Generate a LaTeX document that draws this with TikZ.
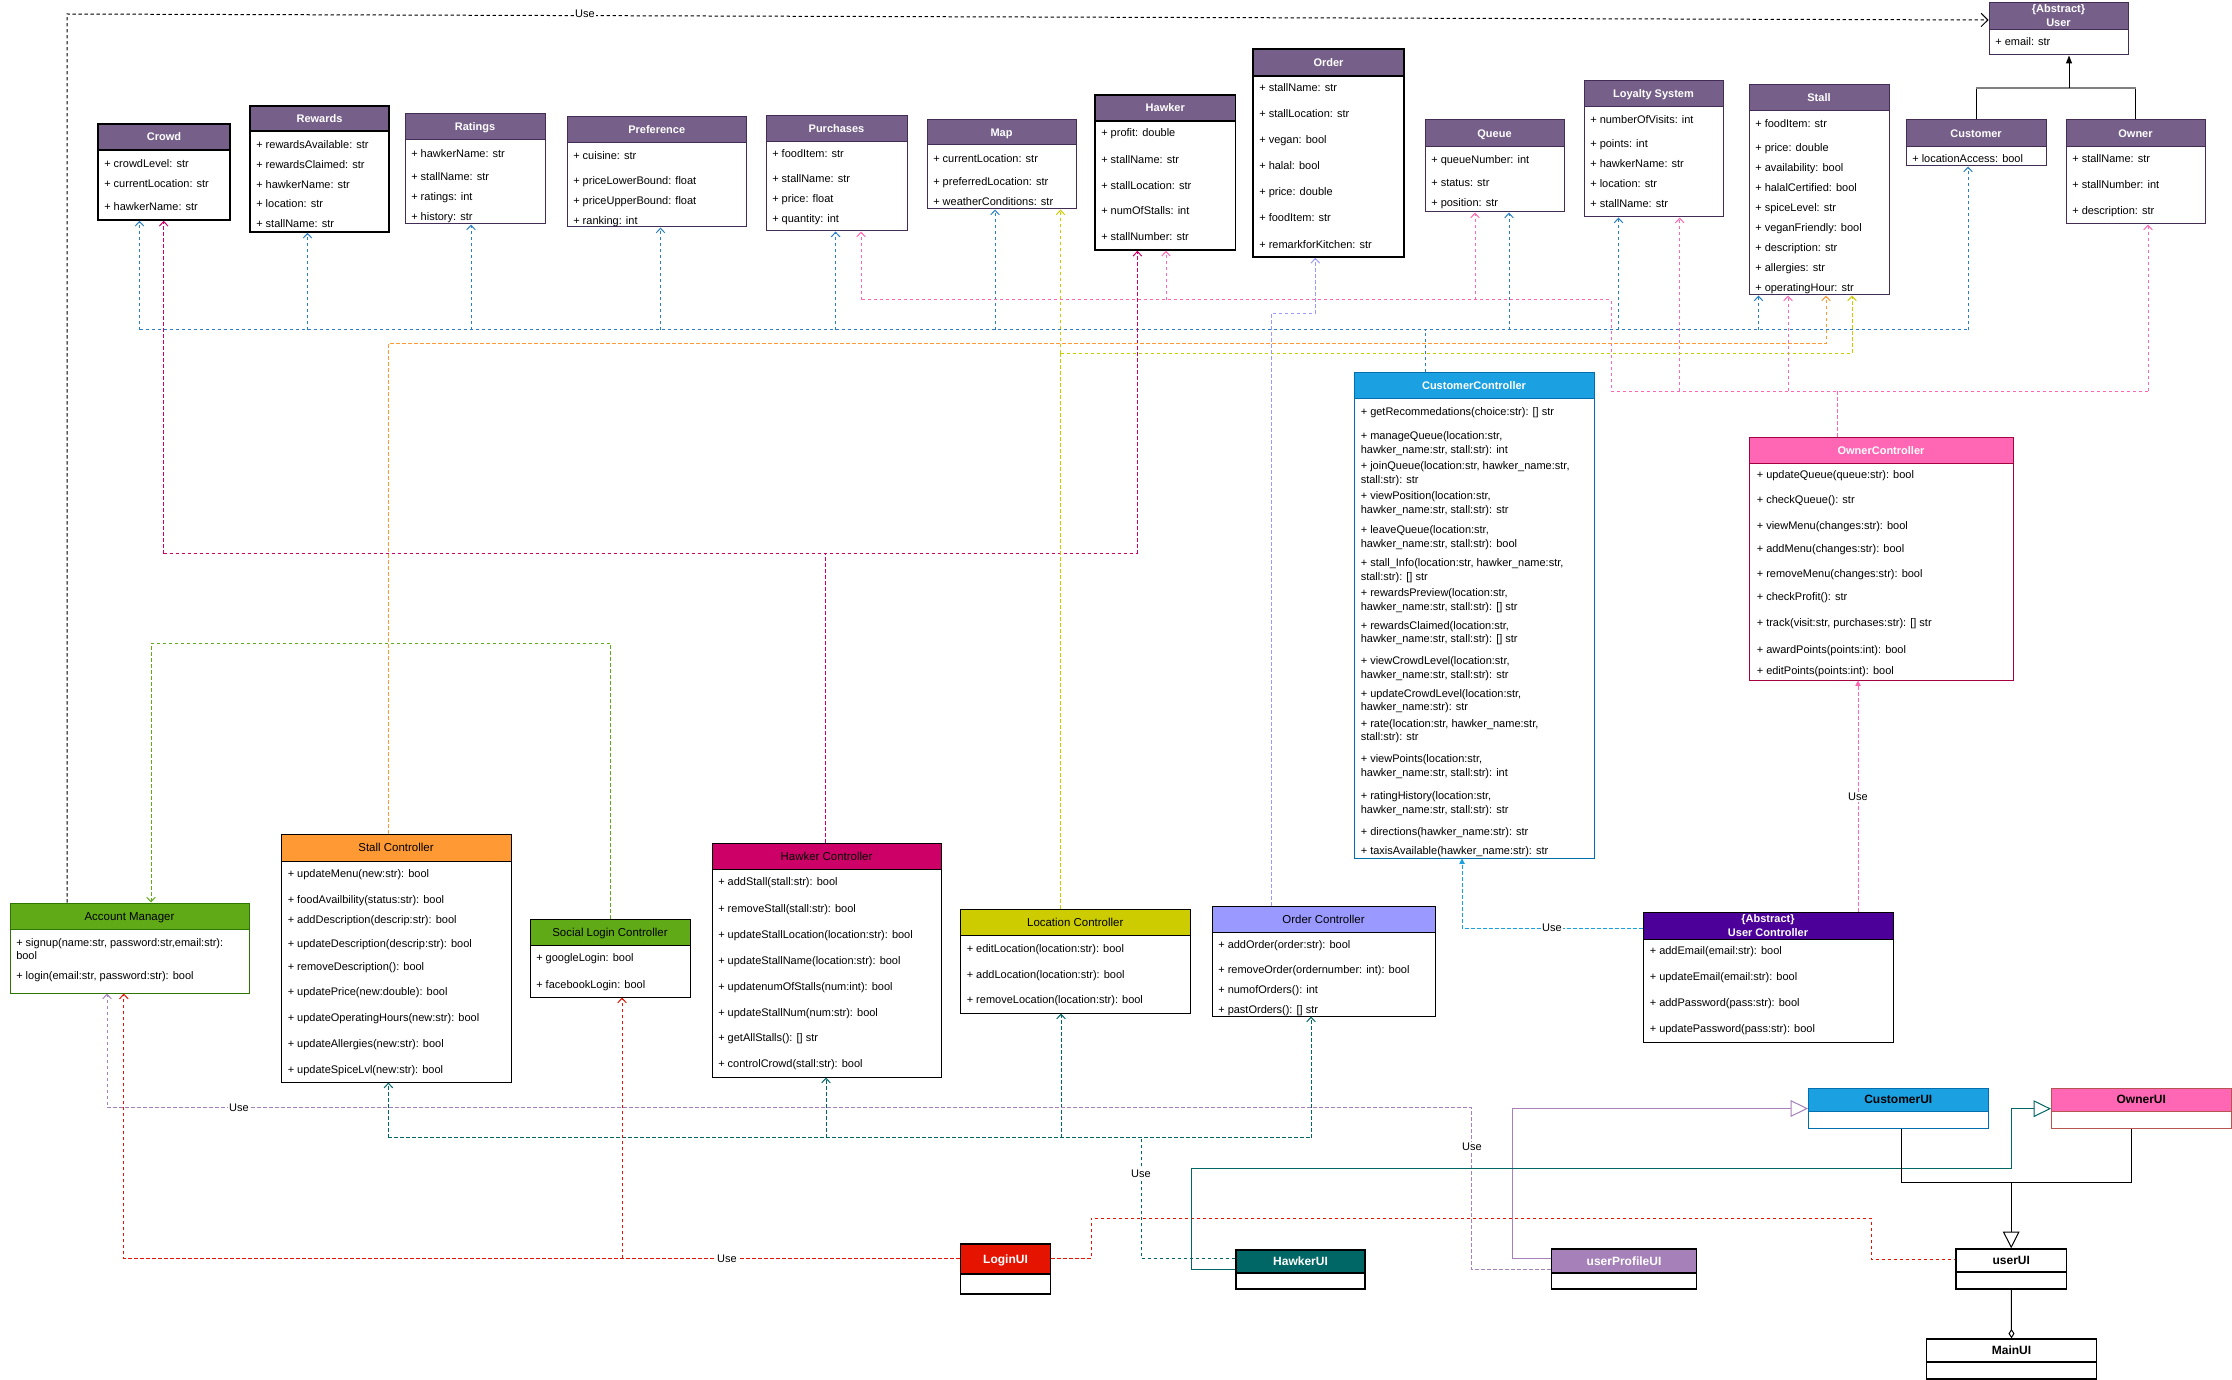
\documentclass[tikz,border=0pt]{standalone}
\usepackage{fontspec}
\setmainfont{Liberation Sans}
\usetikzlibrary{arrows.meta,fit}

% box colours
\definecolor{clsfill}{HTML}{76608A}
\definecolor{clsline}{HTML}{432D57}
\definecolor{ccfill}{HTML}{1BA1E2}
\definecolor{ccline}{HTML}{006EAF}
\definecolor{ocfill}{HTML}{FF66B3}
\definecolor{ocline}{HTML}{A50040}
\definecolor{ucfill}{HTML}{4C0099}
\definecolor{amfill}{HTML}{60A917}
\definecolor{amline}{HTML}{2D7600}
\definecolor{scfill}{HTML}{FF9933}
\definecolor{hcfill}{HTML}{CC0066}
\definecolor{lcfill}{HTML}{CCCC00}
\definecolor{odfill}{HTML}{9999FF}
\definecolor{lgfill}{HTML}{E51400}
\definecolor{hufill}{HTML}{006666}
\definecolor{pufill}{HTML}{A680B8}
\definecolor{ouline}{HTML}{B85450}
% connector colours
\definecolor{cblue}{HTML}{2A7FC4}
\definecolor{cpink}{HTML}{FF66B3}
\definecolor{corange}{HTML}{FF9933}
\definecolor{cyellow}{HTML}{CCCC00}
\definecolor{ccrim}{HTML}{CC0066}
\definecolor{clpur}{HTML}{9999FF}
\definecolor{cgreen}{HTML}{60A917}
\definecolor{cred}{HTML}{E51400}
\definecolor{cpur}{HTML}{A680B8}
\definecolor{cteal}{HTML}{006666}

\newcommand{\attrfont}{\fontsize{8.25}{10}\selectfont}
\newcommand{\clsfont}{\fontsize{8.25}{10.5}\selectfont\bfseries}
\newcommand{\ctlfont}{\fontsize{8.6}{10.5}\selectfont}
\newcommand{\uifont}{\fontsize{9}{11}\selectfont\bfseries}

% class box: name, x1, y1, x2, y2, header bottom, border style, header style, title
\newcommand{\umlbox}[9]{%
  \node[umlbody,#7,fit={(#2,#3) (#4,#5)}] (#1) {};
  \node[umlhead,#7,#8,fit={(#2,#3) (#4,#6)}] (#1-head) {};
  \node[titletext,#8,fill=none] (#1-title) at (#1-head.center) {#9};
}
% member lines: class name, x, list of y/text
\newcommand{\attrs}[3]{%
  \foreach \ay/\atxt [count=\ai] in {#3}{\node[attr] (#1-a\ai) at (#2,\ay) {\atxt};}
}

\tikzset{
  umlbody/.style={draw, fill=white, inner sep=0pt, line width=0.75pt},
  umlhead/.style={draw, inner sep=0pt, line width=0.75pt},
  titletext/.style={inner sep=0pt, text height=6pt, text depth=0pt},
  attr/.style={anchor=west, inner sep=0pt, font=\attrfont, text height=5.9pt, text depth=1.2pt},
  pbd/.style={draw=clsline},
  blk/.style={draw=black, line width=1.1pt},
  thinblk/.style={draw=black},
  purphead/.style={fill=clsfill, text=white, font=\clsfont},
  ctlhead/.style={fill=#1, text=black, font=\ctlfont},
  whitehead/.style={fill=#1, text=white, font=\clsfont},
  uihead/.style={fill=#1, text=black, font=\uifont},
  uiwhite/.style={fill=#1, text=white, font=\uifont},
  conn/.style={line width=0.75pt},
  dashline/.style={conn, draw=#1, dash pattern=on 2.5pt off 2pt},
  dep/.style={dashline=#1, -{Straight Barb[length=3.5pt,width=6.5pt]}},
  uselbl/.style={font=\attrfont, fill=white, inner sep=1pt},
}

\begin{document}
\begin{tikzpicture}[x=0.75pt,y=-0.75pt]
\fill[white] (0,0) rectangle (2232,1380);
\useasboundingbox (0,0) rectangle (2232,1380);

% ---------------- entity classes ----------------
\umlbox{crowd}{98}{124}{230}{220}{150}{blk}{purphead}{Crowd}
\attrs{crowd}{104}{164/{+ crowdLevel: str},184/{+ currentLocation: str},207.7/{+ hawkerName: str}}

\umlbox{rewards}{250}{106}{389}{232}{131}{blk}{purphead}{Rewards}
\attrs{rewards}{256}{145.7/{+ rewardsAvailable: str},165/{+ rewardsClaimed: str},185/{+ hawkerName: str},204.3/{+ location: str},224.3/{+ stallName: str}}

\umlbox{ratings}{405}{114}{545}{224}{140}{pbd}{purphead}{Ratings}
\attrs{ratings}{411}{154.3/{+ hawkerName: str},177.7/{+ stallName: str},197.7/{+ ratings: int},217.7/{+ history: str}}

\umlbox{pref}{567}{117}{746.5}{227}{143}{pbd}{purphead}{Preference}
\attrs{pref}{573}{156.7/{+ cuisine: str},181/{+ priceLowerBound: float},201/{+ priceUpperBound: float},221/{+ ranking: int}}

\umlbox{purch}{766}{116}{907}{231}{142}{pbd}{purphead}{Purchases}
\attrs{purch}{772}{154.3/{+ foodItem: str},179/{+ stallName: str},199/{+ price: float},219/{+ quantity: int}}

\umlbox{map}{927}{120}{1076}{209}{145}{pbd}{purphead}{Map}
\attrs{map}{933}{159/{+ currentLocation: str},182.3/{+ preferredLocation: str},202.3/{+ weatherConditions: str}}

\umlbox{hawker}{1095}{95}{1235.5}{250}{121}{blk}{purphead}{Hawker}
\attrs{hawker}{1101}{133.7/{+ profit: double},160/{+ stallName: str},186/{+ stallLocation: str},211.7/{+ numOfStalls: int},237.7/{+ stallNumber: str}}

\umlbox{order}{1253}{49}{1404}{257}{76}{blk}{purphead}{Order}
\attrs{order}{1259}{88.3/{+ stallName: str},114.7/{+ stallLocation: str},140.7/{+ vegan: bool},166.7/{+ halal: bool},192.3/{+ price: double},218.3/{+ foodItem: str},245/{+ remarkforKitchen: str}}

\umlbox{queue}{1425}{120}{1564}{212}{147}{pbd}{purphead}{Queue}
\attrs{queue}{1431}{160/{+ queueNumber: int},183.7/{+ status: str},203.7/{+ position: str}}

\umlbox{loyalty}{1584}{81}{1723}{217}{107}{pbd}{purphead}{Loyalty System}
\attrs{loyalty}{1590}{120.7/{+ numberOfVisits: int},144.7/{+ points: int},164.7/{+ hawkerName: str},184.7/{+ location: str},204.7/{+ stallName: str}}

\umlbox{stall}{1749}{85}{1889}{295}{111}{pbd}{purphead}{Stall}
\attrs{stall}{1755}{124.7/{+ foodItem: str},148.7/{+ price: double},168.7/{+ availability: bool},188.7/{+ halalCertified: bool},208.7/{+ spiceLevel: str},228.7/{+ veganFriendly: bool},248.7/{+ description: str},268.7/{+ allergies: str},288.7/{+ operatingHour: str}}

\umlbox{customer}{1906}{120}{2046}{166}{147}{pbd}{purphead}{Customer}
\attrs{customer}{1912}{159.7/{+ locationAccess: bool}}

\umlbox{owner}{2066}{120}{2205}{224}{147}{pbd}{purphead}{Owner}
\attrs{owner}{2072}{159.7/{+ stallName: str},185.7/{+ stallNumber: int},211.7/{+ description: str}}

\umlbox{user}{1989}{3}{2128}{55}{30}{pbd}{purphead}{}
\node[titletext,text=white,font=\clsfont] (user-t1) at (2058.5,9) {\{Abstract\}};
\node[titletext,text=white,font=\clsfont] (user-t2) at (2058.5,23) {User};
\attrs{user}{1995}{42.7/{+ email: str}}

% ---------------- controllers ----------------
\umlbox{custctl}{1354}{373}{1594}{858}{398}{draw=ccline}{whitehead=ccfill}{CustomerController}
\attrs{custctl}{1360.5}{412.3/{+ getRecommedations(choice:str): [] str},
 436.7/{+ manageQueue(location:str,},450/{hawker\_name:str, stall:str): int},
 466.7/{+ joinQueue(location:str, hawker\_name:str,},480/{stall:str): str},
 496.7/{+ viewPosition(location:str,},510/{hawker\_name:str, stall:str): str},
 530/{+ leaveQueue(location:str,},544/{hawker\_name:str, stall:str): bool},
 563.3/{+ stall\_Info(location:str, hawker\_name:str,},577.3/{stall:str): [] str},
 593.3/{+ rewardsPreview(location:str,},607.3/{hawker\_name:str, stall:str): [] str},
 626/{+ rewardsClaimed(location:str,},639.3/{hawker\_name:str, stall:str): [] str},
 661.7/{+ viewCrowdLevel(location:str,},675/{hawker\_name:str, stall:str): str},
 694/{+ updateCrowdLevel(location:str,},707.7/{hawker\_name:str): str},
 724.3/{+ rate(location:str, hawker\_name:str,},737.7/{stall:str): str},
 759.3/{+ viewPoints(location:str,},773.3/{hawker\_name:str, stall:str): int},
 796/{+ ratingHistory(location:str,},810/{hawker\_name:str, stall:str): str},
 832.7/{+ directions(hawker\_name:str): str},
 851.7/{+ taxisAvailable(hawker\_name:str): str}}

\umlbox{ownctl}{1749}{437}{2013}{680}{463}{draw=ocline}{whitehead=ocfill}{OwnerController}
\attrs{ownctl}{1756.5}{475.7/{+ updateQueue(queue:str): bool},500/{+ checkQueue(): str},526/{+ viewMenu(changes:str): bool},549.3/{+ addMenu(changes:str): bool},574/{+ removeMenu(changes:str): bool},597.3/{+ checkProfit(): str},623.3/{+ track(visit:str, purchases:str): [] str},650/{+ awardPoints(points:int): bool},671.7/{+ editPoints(points:int): bool}}

\umlbox{acct}{10}{903}{249}{993}{929}{draw=amline}{ctlhead=amfill}{Account Manager}
\attrs{acct}{16}{943.3/{+ signup(name:str, password:str,email:str):},956.7/{bool},976.7/{+ login(email:str, password:str): bool}}

\umlbox{stallctl}{281}{834}{511}{1082}{861}{thinblk}{ctlhead=scfill}{Stall Controller}
\attrs{stallctl}{287.5}{874/{+ updateMenu(new:str): bool},900/{+ foodAvailbility(status:str): bool},920/{+ addDescription(descrip:str): bool},944/{+ updateDescription(descrip:str): bool},967.7/{+ removeDescription(): bool},992.3/{+ updatePrice(new:double): bool},1018.3/{+ updateOperatingHours(new:str): bool},1044/{+ updateAllergies(new:str): bool},1070/{+ updateSpiceLvl(new:str): bool}}

\umlbox{social}{530}{919}{690}{997}{945}{thinblk}{ctlhead=amfill}{Social Login Controller}
\attrs{social}{536}{958.7/{+ googleLogin: bool},985/{+ facebookLogin: bool}}

\umlbox{hawkctl}{712}{843}{941}{1077}{869}{thinblk}{ctlhead=hcfill}{Hawker Controller}
\attrs{hawkctl}{718}{882.7/{+ addStall(stall:str): bool},909/{+ removeStall(stall:str): bool},935/{+ updateStallLocation(location:str): bool},961/{+ updateStallName(location:str): bool},987/{+ updatenumOfStalls(num:int): bool},1013/{+ updateStallNum(num:str): bool},1038.3/{+ getAllStalls(): [] str},1064.3/{+ controlCrowd(stall:str): bool}}

\umlbox{locctl}{960.5}{909}{1190}{1013}{935}{thinblk}{ctlhead=lcfill}{Location Controller}
\attrs{locctl}{966.5}{949/{+ editLocation(location:str): bool},975/{+ addLocation(location:str): bool},1000.7/{+ removeLocation(location:str): bool}}

\umlbox{ordctl}{1212}{906}{1435}{1016}{932}{thinblk}{ctlhead=odfill}{Order Controller}
\attrs{ordctl}{1218}{945.7/{+ addOrder(order:str): bool},970.3/{+ removeOrder(ordernumber: int): bool},990/{+ numofOrders(): int},1010/{+ pastOrders(): [] str}}

\umlbox{userctl}{1643}{912}{1893}{1042}{939}{thinblk}{whitehead=ucfill}{}
\node[titletext,text=white,font=\clsfont] (userctl-t1) at (1768,918) {\{Abstract\}};
\node[titletext,text=white,font=\clsfont] (userctl-t2) at (1768,932.5) {User Controller};
\attrs{userctl}{1649.5}{951.7/{+ addEmail(email:str): bool},977.7/{+ updateEmail(email:str): bool},1003.7/{+ addPassword(pass:str): bool},1029.7/{+ updatePassword(pass:str): bool}}

% ---------------- user interface classes ----------------
\umlbox{custui}{1808.5}{1088}{1988}{1128}{1111}{draw=ccline}{uihead=ccfill}{CustomerUI}
\umlbox{ownui}{2051.5}{1088}{2231}{1128}{1111}{draw=ouline}{uihead=ocfill}{OwnerUI}
\umlbox{loginui}{960.5}{1244}{1050.5}{1294}{1274}{blk}{uiwhite=lgfill}{LoginUI}
\umlbox{hawkui}{1236}{1250}{1365}{1289}{1273}{blk}{uiwhite=hufill}{HawkerUI}
\umlbox{profui}{1551.5}{1249}{1696.5}{1289}{1273}{blk}{uiwhite=pufill}{userProfileUI}
\umlbox{userui}{1956}{1249}{2066.5}{1289}{1272}{blk}{uihead=white}{userUI}
\umlbox{mainui}{1926.5}{1339}{2096.5}{1379}{1362}{blk}{uihead=white}{MainUI}

% ---------------- connectors ----------------
% Account Manager uses User
\draw[dep=black, -{Straight Barb[length=5pt,width=10pt]}] (acct.north -| 67,0) -- (67,14) -- (user.west |- 0,20);

% CustomerController to the entity classes
\coordinate (cbus) at (1425,330);
\draw[dashline=cblue] (custctl.north -| cbus) -- (cbus);
\draw[dashline=cblue] (139.5,330) -- (1968,330);
\foreach \bx/\bn in {139.5/crowd,307.5/rewards,471/ratings,660.5/pref,835.6/purch,995/map,1509/queue,1618.5/loyalty,1758.5/stall,1968/customer}
  \draw[dep=cblue] (\bx,330) -- (\bn.south -| \bx,0);

% OwnerController to the entity classes
\draw[dashline=cpink] (ownctl.north -| 1837.7,0) -- (1837.7,391);
\draw[dashline=cpink] (2148,391) -- (1611,391) -- (1611,300) -- (861,300);
\foreach \bx/\by/\bn in {861/300/purch,1166/300/hawker,1475/300/queue,1679.7/391/loyalty,1788/391/stall,2148/391/owner}
  \draw[dep=cpink] (\bx,\by) -- (\bn.south -| \bx,0);

% Hawker Controller
\draw[dashline=ccrim] (hawkctl.north -| 825.6,0) -- (825.6,553.7);
\draw[dashline=ccrim] (163.7,553.7) -- (1137.4,553.7);
\draw[dep=ccrim] (163.7,553.7) -- (crowd.south -| 163.7,0);
\draw[dep=ccrim] (1137.4,553.7) -- (hawker.south -| 1137.4,0);

% Stall Controller
\draw[dep=corange] (stallctl.north -| 388.6,0) |- (1826,343.3) -- (stall.south -| 1826,0);

% Location Controller
\draw[dashline=cyellow] (locctl.north -| 1060.5,0) -- (1060.5,353.3);
\draw[dep=cyellow] (1060.5,353.3) -- (map.south -| 1060.5,0);
\draw[dep=cyellow] (1060.5,353.3) -- (1852,353.3) -- (stall.south -| 1852,0);

% Order Controller
\draw[dep=clpur] (ordctl.north -| 1271,0) |- (1315.3,313.3) -- (order.south -| 1315.3,0);

% Social Login Controller to Account Manager
\draw[dep=cgreen] (social.north -| 610.7,0) |- (151,643.3) -- (acct.north -| 151,0);

% HawkerUI uses the controllers
\draw[dashline=cteal] (388.4,1137.5) -- (1311,1137.5);
\foreach \bx/\bn in {388.4/stallctl,826/hawkctl,1061/locctl,1311/ordctl}
  \draw[dep=cteal] (\bx,1137.5) -- (\bn.south -| \bx,0);
\draw[dashline=cteal] (hawkui.west |- 0,1258.5) -- (1141.4,1258.5) -- (1141.4,1137.5);

% userProfileUI uses Account Manager
\draw[dep=cpur] (profui.west |- 0,1269.3) -- (1471.4,1269.3) -- (1471.4,1107.5) -- (107,1107.5) -- (acct.south -| 107,0);

% LoginUI
\draw[dep=cred] (loginui.west |- 0,1258.3) -- (123.8,1258.3) -- (acct.south -| 123.8,0);
\draw[dep=cred] (622,1258.3) -- (social.south -| 622,0);
\draw[dashline=cred] (loginui.east |- 0,1258.3) -- (1091.3,1258.3) -- (1091.3,1218) -- (1871,1218) -- (1871,1259.3) -- (userui.west |- 0,1259.3);

% User Controller uses the two controllers
\draw[dashline=ccfill, -{Triangle[length=4pt,width=4pt]}] (userctl.west |- 0,928) -- (1462,928) -- (custctl.south -| 1462,0);
\draw[dashline=cpink, -{Triangle[length=4pt,width=4pt]}] (userctl.north -| 1858,0) -- (ownctl.south -| 1858,0);

% generalisations of the interface classes
\draw[conn, draw=cpur, -{Triangle[open,length=13pt,width=12.5pt]}] (profui.west |- 0,1258.3) -- (1512.2,1258.3) -- (1512.2,1108.5) -- (custui.west |- 0,1108.5);
\draw[conn, draw=cteal, -{Triangle[open,length=13pt,width=12.5pt]}] (hawkui.west |- 0,1269.3) -- (1191.5,1269.3) -- (1191.5,1168.3) -- (2011,1168.3) -- (2011,1108.7) -- (ownui.west |- 0,1108.7);
\draw[conn] (custui.south -| 1901.4,0) |- (2131.3,1182.3) -- (ownui.south -| 2131.3,0);
\draw[conn, -{Triangle[open,length=12.5pt,width=12.5pt]}] (2011.2,1182.3) -- (userui.north -| 2011.2,0);
\draw[conn, -{Diamond[open,length=7pt,width=4.5pt]}] (userui.south) -- (mainui.north);

% Customer and Owner specialise User
\draw[conn] (customer.north) |- (2135.5,88) -- (owner.north);
\draw[line width=1.3pt, draw=gray] (1976,88) -- (2135.5,88);
\draw[conn, -{Triangle[length=6pt,width=4.5pt]}] (2069,88) -- (user.south -| 2069,0);

% ---------------- labels ----------------
\node[uselbl] (use1) at (585,14) {Use};
\node[uselbl] (use2) at (239,1107.5) {Use};
\node[uselbl] (use3) at (727,1258.3) {Use};
\node[uselbl] (use4) at (1141,1174) {Use};
\node[uselbl] (use5) at (1472,1147) {Use};
\node[uselbl] (use6) at (1552,928) {Use};
\node[uselbl] (use7) at (1858,797) {Use};
\end{tikzpicture}
\end{document}
